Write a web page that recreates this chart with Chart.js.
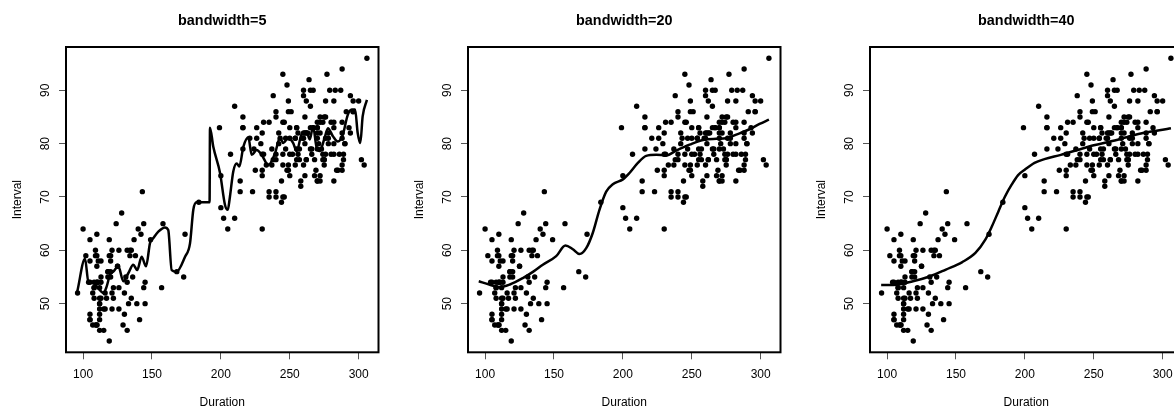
<!DOCTYPE html>
<html>
<head>
<meta charset="utf-8">
<script src="https://cdn.jsdelivr.net/npm/chart.js@4.4.1/dist/chart.umd.min.js"></script>
<style>
  html, body { margin: 0; padding: 0; background: #fff; }
  body { width: 1174px; height: 410px; overflow: hidden; position: relative; }
  canvas { position: absolute; top: 0; }
</style>
</head>
<body>
<canvas id="bw5" width="402" height="410" style="left:0px"></canvas>
<canvas id="bw20" width="402" height="410" style="left:402px"></canvas>
<canvas id="bw40" width="402" height="410" style="left:804px"></canvas>
<script>
// eruption duration (seconds) and waiting interval (minutes)
var duration = [216,108,200,137,272,173,282,216,117,261,110,235,252,105,282,130,105,288,96,255,
  108,105,207,184,272,216,118,245,231,266,258,268,202,242,230,121,112,290,110,287,
  261,113,274,105,272,199,230,126,278,120,288,283,110,290,104,293,223,100,274,259,
  134,270,105,288,109,264,250,282,124,282,242,118,270,240,119,304,121,274,233,216,
  248,260,246,158,244,296,237,271,130,240,132,260,112,289,110,258,280,225,112,294,
  149,262,126,270,243,112,282,107,291,221,284,138,294,265,102,278,139,276,109,265,
  157,244,255,118,276,226,115,270,136,279,112,250,168,260,110,263,113,296,122,224,
  254,134,272,289,260,119,278,121,306,108,302,240,144,276,214,240,270,245,108,238,
  132,249,120,230,210,275,142,300,116,277,115,125,275,200,250,260,270,145,240,250,
  113,275,255,226,122,266,245,110,265,131,288,110,288,246,238,254,210,262,135,280,
  126,261,248,112,276,107,262,231,116,270,143,282,112,230,205,254,144,288,120,249,
  112,256,105,269,240,247,245,256,235,273,245,145,251,133,267,113,111,257,237,140,
  249,141,296,174,275,230,125,262,128,261,132,267,214,270,249,229,235,267,120,257,
  286,272,111,255,119,135,285,247,129,265,109,268];
var interval = [79,54,74,62,85,55,88,85,51,85,54,84,78,47,83,52,62,84,52,79,
  51,47,78,69,74,83,55,76,78,79,73,77,66,80,74,52,48,80,59,90,
  80,58,84,58,73,83,64,53,82,59,75,90,54,80,54,83,71,64,77,81,
  59,84,48,82,60,92,78,78,65,73,82,56,79,71,62,76,60,78,76,83,
  75,82,70,65,73,88,76,80,48,86,60,90,50,78,63,72,84,75,51,82,
  62,88,49,83,81,47,84,52,86,81,75,59,89,79,59,81,50,85,59,87,
  53,69,77,56,88,81,45,82,55,90,45,83,56,89,46,82,51,86,53,79,
  81,60,82,77,76,59,80,49,96,53,77,77,65,81,71,70,81,93,53,89,
  45,86,58,78,66,76,63,88,52,93,49,57,77,68,81,81,73,50,85,74,
  55,77,83,83,51,78,84,46,83,55,81,57,76,84,77,81,87,77,51,78,
  60,82,91,53,78,46,77,84,49,83,71,80,49,75,64,76,53,94,55,76,
  50,82,54,75,78,79,78,78,70,79,70,54,86,50,90,54,54,77,79,64,
  75,47,86,63,85,82,57,82,67,74,54,83,73,73,88,80,71,83,56,79,
  78,84,58,83,43,60,75,81,46,90,46,74];

// kernel smooth curves
var bw5X = [95.8,101.4,103.8,107.4,111,114.7,117.1,119.5,121.9,125.6,129.2,132.8,136.4,139.3,142.5,145.7,
  148.6,151,154.6,159.4,161.8,164.3,167.9,174,177.6,180,182.4,189.7,191.8,192.1,194.5,199.4,203,205,
  206.6,209,211.5,213.4,216.3,219.9,222.4,226,229.6,234.4,239.3,242.9,245.3,249,252.5,255,258.5,262.1,
  264.5,266.9,269.3,271.7,275.3,277.7,281.3,284.9,288.5,292.1,295,297.4,299.3,301.2,302.9,306];
var bw5Y = [52.3,58.4,54.2,53.9,52.9,52.0,53.2,55.4,56.0,57.0,54.2,55.7,57.3,56.3,58.8,57.0,
  61.4,62.3,63.5,64.3,63.8,56.3,56.0,58.8,61.3,67.6,69.0,69.0,69.0,83.0,79.4,74.5,68.5,67.6,
  70.1,74.8,76.3,75.7,79.4,81.2,77.9,78.8,77.9,76.0,78.2,81.1,80.1,81.1,80.1,78.6,81.7,82.3,
  80.8,83.2,79.5,78.6,81.1,82.9,81.4,80.4,81.7,85.4,86.4,86.4,82.0,80.1,85.1,88.2];
var bw20X = [95.4,103,110.4,118,127.4,135,141.9,151.6,158.3,163.7,168.5,173.4,178.2,183,187.9,192.7,
  200,204.8,210.9,216.9,224.2,231.5,238.7,248.4,258.1,267.8,275,282.3,292,299.2,306];
var bw20Y = [54.2,53.6,53.1,53.6,54.8,56.0,57.3,58.9,60.9,60.2,59.3,60.4,63.3,67.6,71.0,72.4,
  73.3,74.5,76.4,77.7,77.9,77.8,78.7,79.8,80.7,80.9,81.0,81.7,82.7,83.7,84.5];
var bw40X = [95.7,104.5,118.8,130.8,142.7,154.6,164.1,171.3,176.1,180.8,185.6,190.4,195.1,199.9,
  207,214.2,226.1,238,250,261.9,273.8,285.7,297.6,306];
var bw40Y = [53.5,53.5,54.2,55.1,56.4,57.8,59.5,62.0,64.5,67.3,70.1,72.3,74.1,75.1,
  76.4,77.1,77.9,78.8,79.7,80.4,81.2,82.0,82.5,82.9];

var xTicks = [100, 150, 200, 250, 300];
var yTicks = [50, 60, 70, 80, 90];

Chart.defaults.font.family = "'Liberation Sans', Arial, Helvetica, sans-serif";
Chart.defaults.color = '#000';

function pairs(xs, ys) {
  var out = [];
  for (var i = 0; i < xs.length; i++) out.push({x: xs[i], y: ys[i]});
  return out;
}

// title, box, rotated y labels like base R graphics
var rStyle = {
  id: 'rStyle',
  afterDraw: function(chart) {
    var ctx = chart.ctx, a = chart.chartArea, y = chart.scales.y;
    ctx.save();
    ctx.strokeStyle = '#000';
    ctx.lineWidth = 2;
    ctx.strokeRect(a.left, a.top, a.right - a.left, a.bottom - a.top);

    ctx.fillStyle = '#000';
    ctx.font = "bold 14.4px 'Liberation Sans', Arial, sans-serif";
    ctx.textAlign = 'center';
    ctx.textBaseline = 'alphabetic';
    ctx.fillText(chart.options.plugins.rStyle.title, (a.left + a.right) / 2, 24.5);

    ctx.font = "12px 'Liberation Sans', Arial, sans-serif";
    yTicks.forEach(function(v) {
      ctx.save();
      ctx.translate(a.left - 16.7, y.getPixelForValue(v));
      ctx.rotate(-Math.PI / 2);
      ctx.fillText(String(v), 0, 0);
      ctx.restore();
    });
    ctx.save();
    ctx.translate(20.7, (a.top + a.bottom) / 2);
    ctx.rotate(-Math.PI / 2);
    ctx.fillText('Interval', 0, 0);
    ctx.restore();
    ctx.restore();
  }
};

function makeChart(id, title, lx, ly) {
  return new Chart(document.getElementById(id), {
    type: 'scatter',
    data: {
      datasets: [{
        data: pairs(duration, interval),
        pointRadius: 2.7,
        pointBackgroundColor: '#000',
        pointBorderWidth: 0,
        showLine: false
      }, {
        data: pairs(lx, ly),
        showLine: true,
        pointRadius: 0,
        borderColor: '#000',
        borderWidth: 2.5,
        cubicInterpolationMode: 'monotone'
      }]
    },
    plugins: [rStyle],
    options: {
      responsive: false,
      animation: false,
      devicePixelRatio: 1,
      layout: { padding: { left: 0, top: 47, right: 23.5, bottom: 0 } },
      plugins: {
        legend: { display: false },
        tooltip: { enabled: false },
        rStyle: { title: title }
      },
      scales: {
        x: {
          type: 'linear',
          min: 87.6,
          max: 314.4,
          afterBuildTicks: function(s) { s.ticks = xTicks.map(function(v) { return {value: v}; }); },
          afterFit: function(s) { s.height = 57.7; },
          ticks: { font: { size: 12 }, color: '#000', padding: 8, maxRotation: 0, autoSkip: false },
          grid: { drawOnChartArea: false, drawTicks: true, tickLength: 7, color: '#555', lineWidth: 1 },
          border: { display: false },
          title: { display: true, text: 'Duration', font: { size: 12 }, color: '#000', padding: { top: 0, bottom: 0 } }
        },
        y: {
          type: 'linear',
          min: 40.88,
          max: 98.12,
          afterBuildTicks: function(s) { s.ticks = yTicks.map(function(v) { return {value: v}; }); },
          afterFit: function(s) { s.width = 66; },
          ticks: { display: false },
          grid: { drawOnChartArea: false, drawTicks: true, tickLength: 7, color: '#555', lineWidth: 1 },
          border: { display: false }
        }
      }
    }
  });
}

makeChart('bw5', 'bandwidth=5', bw5X, bw5Y);
makeChart('bw20', 'bandwidth=20', bw20X, bw20Y);
makeChart('bw40', 'bandwidth=40', bw40X, bw40Y);
</script>
</body>
</html>
